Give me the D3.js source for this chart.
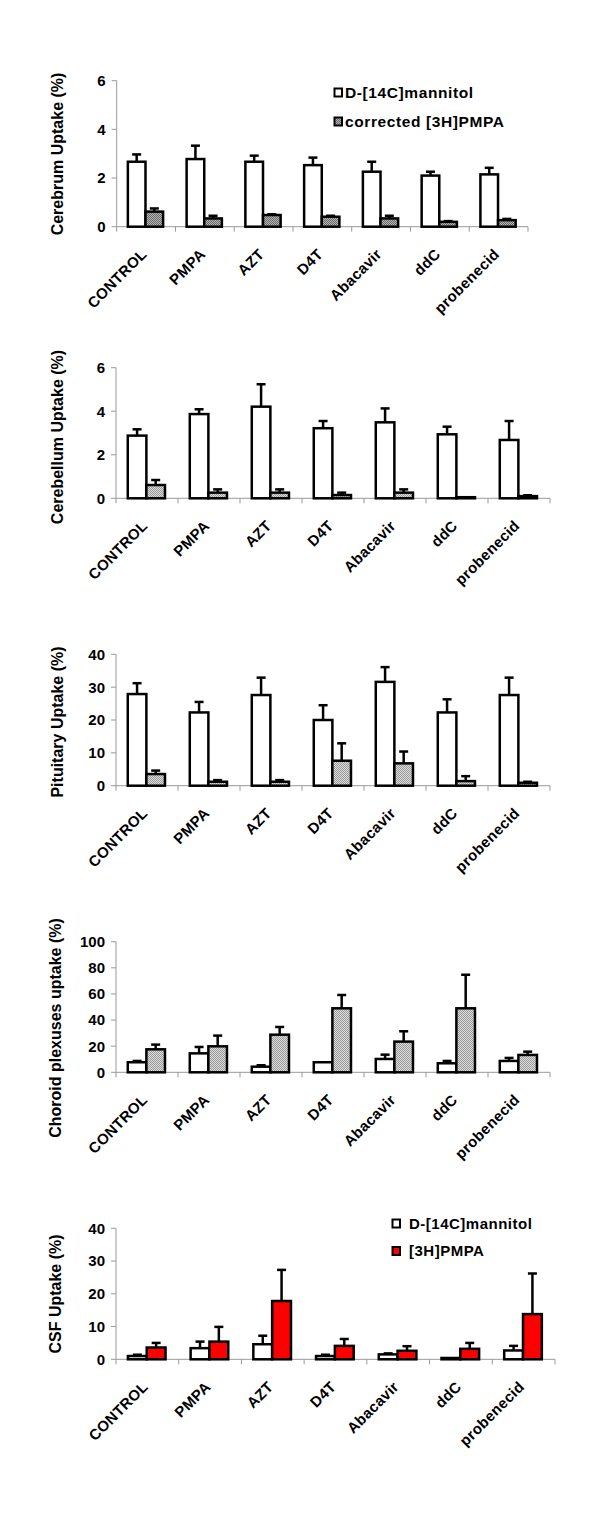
<!DOCTYPE html>
<html><head><meta charset="utf-8">
<script src="https://cdn.jsdelivr.net/npm/d3@7"></script>
<style>
body{margin:0;background:#fff;}
text{font-family:"Liberation Sans",Arial,sans-serif;font-weight:bold;fill:#000;}
</style></head>
<body><svg id="c" width="600" height="1515"></svg>
<script>
const categories = ["CONTROL","PMPA","AZT","D4T","Abacavir","ddC","probenecid"];

const cerebrumMannitol    = [2.67,2.78,2.67,2.53,2.26,2.10,2.15];
const cerebrumMannitolSD  = [0.30,0.55,0.25,0.31,0.41,0.16,0.27];
const cerebrumPmpa        = [0.62,0.34,0.48,0.41,0.34,0.20,0.27];
const cerebrumPmpaSD      = [0.13,0.11,0.03,0.04,0.11,0.03,0.05];

const cerebellumMannitol   = [2.88,3.87,4.21,3.22,3.49,2.94,2.68];
const cerebellumMannitolSD = [0.29,0.22,1.03,0.33,0.64,0.35,0.87];
const cerebellumPmpa       = [0.61,0.26,0.26,0.15,0.26,0.05,0.10];
const cerebellumPmpaSD     = [0.23,0.15,0.15,0.11,0.15,0.00,0.04];

const pituitaryMannitol   = [27.9,22.3,27.6,20.0,31.6,22.3,27.6];
const pituitaryMannitolSD = [3.3,3.2,5.3,4.5,4.5,4.0,5.3];
const pituitaryPmpa       = [3.55,1.2,1.2,7.6,6.8,1.4,0.9];
const pituitaryPmpaSD     = [1.05,0.5,0.5,5.3,3.6,1.5,0.3];

const choroidMannitol   = [7.7,14.5,4.3,7.7,10.2,6.9,8.7];
const choroidMannitolSD = [1.0,4.9,1.1,0.0,3.3,1.8,2.3];
const choroidPmpa       = [17.6,19.9,28.8,49.0,23.5,49.0,13.3];
const choroidPmpaSD     = [3.6,8.2,5.9,10.2,7.9,25.7,2.5];

const csfMannitol   = [1.0,3.4,4.6,1.0,1.5,0.4,2.7];
const csfMannitolSD = [0.4,2.0,2.6,0.4,0.3,0.0,1.4];
const csfPmpa       = [3.6,5.4,17.8,4.1,2.6,3.2,13.8];
const csfPmpaSD     = [1.4,4.5,9.5,2.1,1.4,1.8,12.4];

const yTitles = ["Cerebrum Uptake (%)","Cerebellum Uptake (%)","Pituitary Uptake (%)","Choroid plexuses uptake (%)","CSF Uptake (%)"];
const yTicks1 = [0,2,4,6], yTicks2 = [0,2,4,6], yTicks3 = [0,10,20,30,40], yTicks4 = [0,20,40,60,80,100], yTicks5 = [0,10,20,30,40];
const legend1 = ["D-[14C]mannitol","corrected [3H]PMPA"];
const legend5 = ["D-[14C]mannitol","[3H]PMPA"];

const svg = d3.select("#c");
const defs = svg.append("defs");
function pat(id, bg, fg){
  const p = defs.append("pattern").attr("id",id).attr("patternUnits","userSpaceOnUse").attr("width",2).attr("height",2);
  p.append("rect").attr("width",2).attr("height",2).attr("fill",bg);
  p.append("rect").attr("width",1).attr("height",1).attr("fill",fg);
  p.append("rect").attr("x",1).attr("y",1).attr("width",1).attr("height",1).attr("fill",fg);
}
pat("gDark","#b4b4b4","#6a6a6a");
pat("gLight","#dcdcdc","#9a9a9a");

const panels = [
  {a:cerebrumMannitol,aSD:cerebrumMannitolSD,b:cerebrumPmpa,bSD:cerebrumPmpaSD,ticks:yTicks1,title:yTitles[0],
   x0:116.7,x1:528,y0:226.7,y1:80.7,fill:"url(#gDark)",titleX:57,titleY:154,legend:legend1,
   leg:{sx:334.5,tx:345,ys:[88.5,117.5],fs:15.5,ls:0.6}},
  {a:cerebellumMannitol,aSD:cerebellumMannitolSD,b:cerebellumPmpa,bSD:cerebellumPmpaSD,ticks:yTicks2,title:yTitles[1],
   x0:116,x1:550,y0:498.3,y1:367.7,fill:"url(#gLight)",titleX:57,titleY:437},
  {a:pituitaryMannitol,aSD:pituitaryMannitolSD,b:pituitaryPmpa,bSD:pituitaryPmpaSD,ticks:yTicks3,title:yTitles[2],
   x0:116,x1:550,y0:785.7,y1:654.3,fill:"url(#gLight)",titleX:57,titleY:722},
  {a:choroidMannitol,aSD:choroidMannitolSD,b:choroidPmpa,bSD:choroidPmpaSD,ticks:yTicks4,title:yTitles[3],
   x0:116,x1:550,y0:1072.3,y1:941.7,fill:"url(#gLight)",titleX:55,titleY:1028},
  {a:csfMannitol,aSD:csfMannitolSD,b:csfPmpa,bSD:csfPmpaSD,ticks:yTicks5,title:yTitles[4],
   x0:116,x1:555,y0:1359.3,y1:1228.3,fill:"#ff0000",titleX:55,titleY:1294,legend:legend5,
   leg:{sx:392.5,tx:409,ys:[1219.5,1247],fs:15,ls:0.5}}
];

panels.forEach(p=>{
  const g = svg.append("g");
  const x = d3.scaleBand().domain(categories).range([p.x0,p.x1]).padding(0);
  const y = d3.scaleLinear().domain([0,p.ticks[p.ticks.length-1]]).range([p.y0,p.y1]);
  const bw = x.bandwidth(), w = bw*0.3, off = bw*0.19;

  g.append("line").attr("x1",p.x0).attr("x2",p.x0).attr("y1",y(0)).attr("y2",y.range()[1]).attr("stroke","#999").attr("stroke-width",1);
  g.selectAll(".yt").data(p.ticks).join("line").attr("x1",p.x0-5).attr("x2",p.x0).attr("y1",d=>y(d)).attr("y2",d=>y(d)).attr("stroke","#999");
  g.selectAll(".yl").data(p.ticks).join("text").attr("x",p.x0-11).attr("y",d=>y(d)).attr("dy","0.36em")
    .attr("text-anchor","end").attr("font-size",15).text(d=>d);
  g.append("line").attr("x1",p.x0).attr("x2",p.x1).attr("y1",y(0)).attr("y2",y(0)).attr("stroke","#999");
  const bounds = categories.map(c=>x(c)).concat([p.x1]);
  g.selectAll(".xt").data(bounds).join("line").attr("x1",d=>d).attr("x2",d=>d).attr("y1",y(0)).attr("y2",y(0)+5).attr("stroke","#999");
  g.selectAll(".xl").data(categories).join("text")
    .attr("transform",d=>`translate(${x(d)+bw/2+1.5},${y(0)+28.5}) rotate(-45)`)
    .attr("text-anchor","end").attr("font-size",15).attr("letter-spacing","0.3px").text(d=>d);
  g.append("text").attr("transform",`translate(${p.titleX},${p.titleY}) rotate(-90)`).attr("text-anchor","middle")
    .attr("dy","0.35em").attr("font-size",16).text(p.title);

  const series = [
    {v:p.a,sd:p.aSD,dx:off,fill:"#fff"},
    {v:p.b,sd:p.bSD,dx:off+w,fill:p.fill}
  ];
  series.forEach(s=>{
    const data = categories.map((c,i)=>({c,v:s.v[i],sd:s.sd[i]}));
    g.selectAll(null).data(data.filter(d=>d.sd>0)).join("line")
      .attr("x1",d=>x(d.c)+s.dx+w/2).attr("x2",d=>x(d.c)+s.dx+w/2)
      .attr("y1",d=>y(d.v)).attr("y2",d=>y(d.v+d.sd)).attr("stroke","#000").attr("stroke-width",2.5);
    g.selectAll(null).data(data.filter(d=>d.sd>0)).join("line")
      .attr("x1",d=>x(d.c)+s.dx+w/2-4.5).attr("x2",d=>x(d.c)+s.dx+w/2+4.5)
      .attr("y1",d=>y(d.v+d.sd)).attr("y2",d=>y(d.v+d.sd)).attr("stroke","#000").attr("stroke-width",2.5);
    g.selectAll(null).data(data).join("rect")
      .attr("x",d=>x(d.c)+s.dx).attr("width",w)
      .attr("y",d=>y(d.v)).attr("height",d=>y(0)-y(d.v))
      .attr("fill",s.fill).attr("stroke","#000").attr("stroke-width",2.5);
  });

  if(p.legend){
    const fills = ["#fff",p.fill];
    p.legend.forEach((t,i)=>{
      g.append("rect").attr("x",p.leg.sx).attr("y",p.leg.ys[i]).attr("width",7.5).attr("height",8)
        .attr("fill",fills[i]).attr("stroke","#000").attr("stroke-width",2);
      g.append("text").attr("x",p.leg.tx).attr("y",p.leg.ys[i]+9).attr("font-size",p.leg.fs)
        .attr("letter-spacing",p.leg.ls+"px").text(t);
    });
  }
});
</script></body></html>
